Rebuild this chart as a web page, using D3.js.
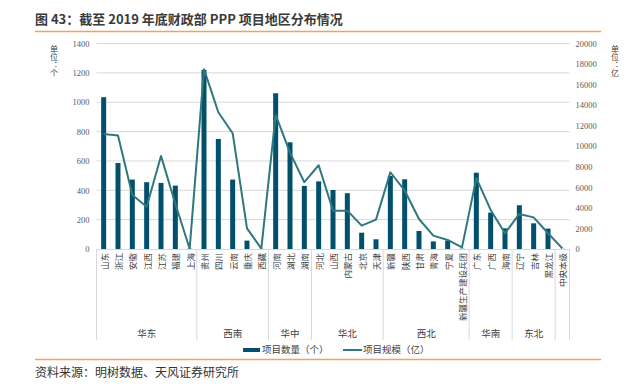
<!DOCTYPE html>
<html>
<head>
<meta charset="utf-8">
<script src="https://cdn.jsdelivr.net/npm/d3@7"></script>
<style>
html,body{margin:0;padding:0;background:#fff;}
svg{display:block;}
</style>
</head>
<body>
<svg id="chart" width="641" height="387"></svg>
<script>
const categories = ["山东","浙江","安徽","江西","江苏","福建","上海",
  "贵州","四川","云南","重庆","西藏",
  "河南","湖北","湖南",
  "河北","山西","内蒙古","北京","天津",
  "新疆","陕西","甘肃","青海","宁夏","新疆生产建设兵团",
  "广东","广西","海南",
  "辽宁","吉林","黑龙江",
  "中央本级"];
const projectCount = [1034,586,473,455,450,432,2,
  1220,750,473,57,1,
  1061,727,430,
  461,402,380,111,66,
  498,475,123,52,57,2,
  520,248,141,
  298,175,139,
  1];
const projectScale = [11200,11040,5260,4120,9060,4400,30,
  17500,13310,11270,2010,40,
  13050,9380,6500,
  8150,3730,3730,2270,2860,
  7470,5700,2920,1300,880,160,
  6900,3800,1530,
  3410,3080,1530,
  60];
const groupNames = ["华东","西南","华中","华北","西北","华南","东北",""];
const groupSizes = [7,5,3,5,6,3,3,1];
const leftTicks = [0,200,400,600,800,1000,1200,1400];
const rightTicks = [0,2000,4000,6000,8000,10000,12000,14000,16000,18000,20000];
const leftUnit = "单位：个";
const rightUnit = "单位：亿";

const svg = d3.select("#chart");
const cjk = "'Noto Sans CJK SC','Noto Sans',sans-serif";
const serif = "'Liberation Serif','DejaVu Serif',serif";
const barColor = "#02506c";
const lineColor = "#2f787d";
const gridColor = "#d9d9d9";

const L = 96.5, R = 569.5, T = 43.5, B = 249;

// title
svg.append("text").attr("x",35).attr("y",24)
  .attr("font-family",cjk).attr("font-size",13).attr("font-weight",700)
  .attr("fill","#3a3a3a").text("图 43：截至 2019 年底财政部 PPP 项目地区分布情况");
svg.append("line").attr("x1",35).attr("x2",601).attr("y1",31.5).attr("y2",31.5)
  .attr("stroke","#f4a15c").attr("stroke-width",1.3);

const x = d3.scaleBand().domain(categories).range([L,R]).padding(0);
const yL = d3.scaleLinear().domain([0,1400]).range([B,T]);
const yR = d3.scaleLinear().domain([0,20000]).range([B,T]);

// grid
svg.append("g").selectAll("line").data(leftTicks.filter(d=>d>0)).join("line")
  .attr("x1",L).attr("x2",R).attr("y1",d=>yL(d)).attr("y2",d=>yL(d))
  .attr("stroke",gridColor).attr("stroke-width",1);

// left axis
const axL = svg.append("g").attr("transform",`translate(${L},0)`)
  .call(d3.axisLeft(yL).tickValues(leftTicks).tickSize(0).tickPadding(7).tickFormat(d3.format("d")));
axL.select(".domain").remove();
axL.selectAll("text").attr("font-family",serif).attr("font-size",8.5).attr("fill","#595959");

// right axis
const axR = svg.append("g").attr("transform",`translate(${R},0)`)
  .call(d3.axisRight(yR).tickValues(rightTicks).tickSize(0).tickPadding(6).tickFormat(d3.format("d")));
axR.select(".domain").remove();
axR.selectAll("text").attr("font-family",serif).attr("font-size",8.5).attr("fill","#595959");

// unit labels (vertical writing)
function vUnit(xc, str){
  svg.append("text").attr("x",xc).attr("y",45)
    .style("writing-mode","vertical-rl").style("text-orientation","upright")
    .attr("font-family",cjk).attr("font-size",8).attr("fill","#404040").text(str);
}
vUnit(54,leftUnit);
vUnit(615,rightUnit);

// bars
const bw = 5;
svg.append("g").selectAll("rect").data(categories).join("rect")
  .attr("x",(d)=>x(d)+x.bandwidth()/2-bw/2)
  .attr("width",bw)
  .attr("y",(d,i)=>yL(projectCount[i]))
  .attr("height",(d,i)=>B-yL(projectCount[i]))
  .attr("fill",barColor);

// line
const line = d3.line().x((d,i)=>x(categories[i])+x.bandwidth()/2).y(d=>yR(d));
svg.append("path").datum(projectScale).attr("d",line)
  .attr("fill","none").attr("stroke",lineColor).attr("stroke-width",2).attr("stroke-linejoin","round");

// x axis base line
svg.append("line").attr("x1",L).attr("x2",R).attr("y1",B+0.5).attr("y2",B+0.5)
  .attr("stroke",gridColor).attr("stroke-width",1);

// category labels (rotated -90)
svg.append("g").selectAll("text").data(categories).join("text")
  .attr("transform",d=>`translate(${x(d)+x.bandwidth()/2},253) rotate(-90)`)
  .attr("text-anchor","end").attr("dominant-baseline","central")
  .attr("font-family",cjk).attr("font-size",8.5).attr("fill","#404040")
  .text(d=>d);

// group separators and labels
let start = 0;
const sepIdx = [0];
groupSizes.forEach((n,gi)=>{
  const x0 = x(categories[start]);
  const x1 = x(categories[start+n-1]) + x.bandwidth();
  if(groupNames[gi]) svg.append("text").attr("x",(x0+x1)/2).attr("y",337)
    .attr("text-anchor","middle").attr("font-family",cjk).attr("font-size",9.5)
    .attr("fill","#404040").text(groupNames[gi]);
  start += n;
  sepIdx.push(start);
});
svg.append("g").selectAll("line").data(sepIdx).join("line")
  .attr("x1",i=> i<categories.length ? x(categories[i]) : R)
  .attr("x2",i=> i<categories.length ? x(categories[i]) : R)
  .attr("y1",B).attr("y2",340)
  .attr("stroke",gridColor).attr("stroke-width",1);

// legend
const lg = svg.append("g");
lg.append("rect").attr("x",243).attr("y",348).attr("width",17).attr("height",4).attr("fill",barColor);
lg.append("text").attr("x",262).attr("y",353).attr("font-family",cjk).attr("font-size",9.5)
  .attr("fill","#404040").text("项目数量（个）");
lg.append("line").attr("x1",343).attr("x2",362).attr("y1",350).attr("y2",350)
  .attr("stroke",lineColor).attr("stroke-width",2);
lg.append("text").attr("x",363).attr("y",353).attr("font-family",cjk).attr("font-size",9.5)
  .attr("fill","#404040").text("项目规模（亿）");

// bottom rule + source
svg.append("line").attr("x1",35).attr("x2",601).attr("y1",359.5).attr("y2",359.5)
  .attr("stroke","#f4a15c").attr("stroke-width",1.3);
svg.append("text").attr("x",35).attr("y",377)
  .attr("font-family",cjk).attr("font-size",12).attr("fill","#333")
  .text("资料来源：明树数据、天风证券研究所");
</script>
</body>
</html>
